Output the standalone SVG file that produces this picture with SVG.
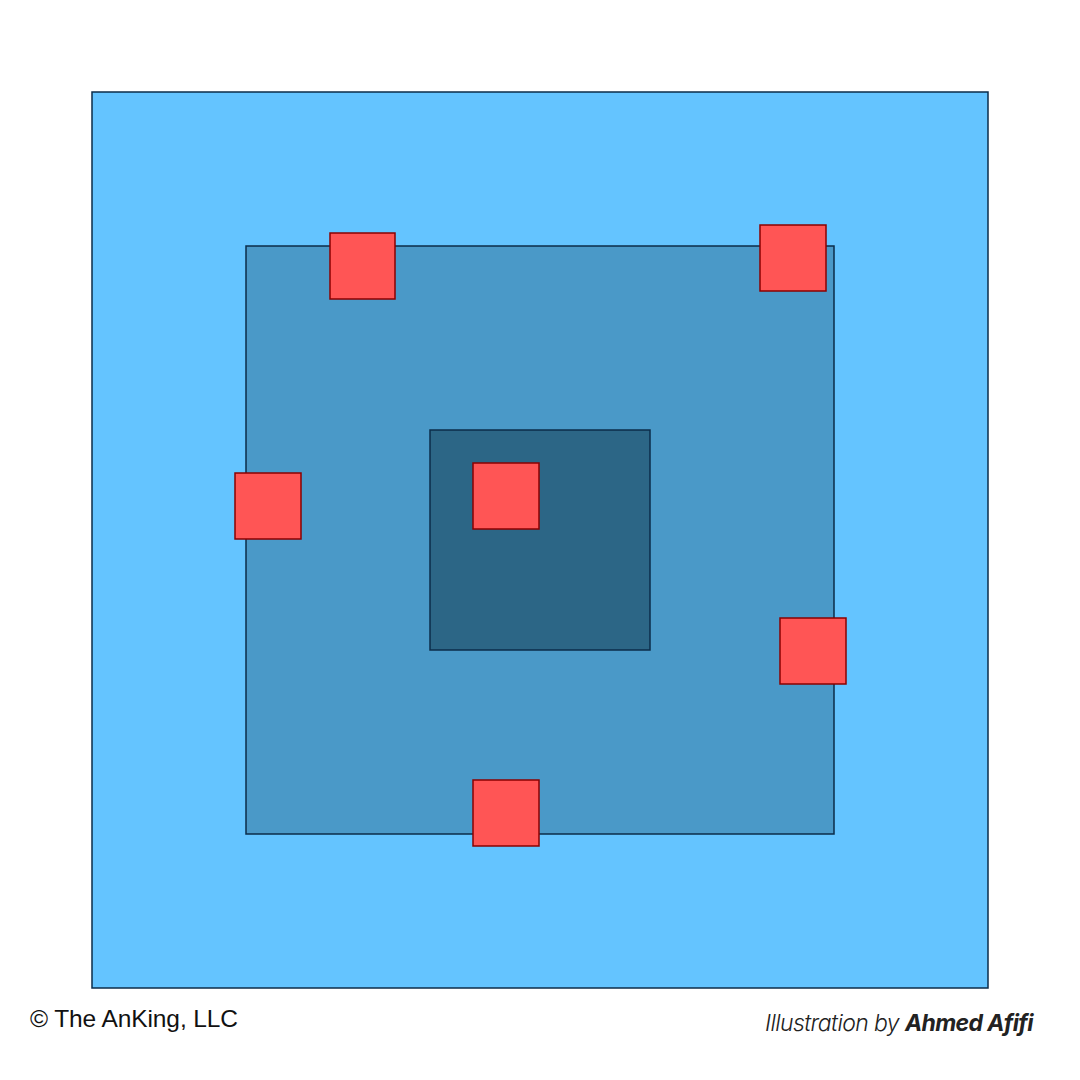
<svg xmlns="http://www.w3.org/2000/svg" width="1080" height="1080" viewBox="0 0 1080 1080">
<style>
.blue{stroke:#0B2D4A;stroke-width:1.5}
.red{fill:#FF5555;stroke:#8B0000;stroke-width:1.5}
.credit{font-family:"Liberation Sans",Arial,sans-serif;font-size:24.5px;fill:#111;letter-spacing:-0.1px}
.illus{font-family:Inter,"Noto Sans",sans-serif;font-size:23px;font-style:italic;fill:#222;letter-spacing:-0.6px}
</style>
<rect width="1080" height="1080" fill="#FFFFFF"/>
<g id="outer"><rect class="blue" x="92" y="92" width="896" height="896" fill="#64C4FF"/></g>
<g id="middle"><rect class="blue" x="246" y="246" width="588" height="588" fill="#4A99C8"/></g>
<g id="inner"><rect class="blue" x="430" y="430" width="220" height="220" fill="#2C6686"/></g>
<g id="sq1"><rect class="red" x="330" y="233" width="65" height="66"/></g>
<g id="sq2"><rect class="red" x="760" y="225" width="66" height="66"/></g>
<g id="sq3"><rect class="red" x="235" y="473" width="66" height="66"/></g>
<g id="sq4"><rect class="red" x="473" y="463" width="66" height="66"/></g>
<g id="sq5"><rect class="red" x="780" y="618" width="66" height="66"/></g>
<g id="sq6"><rect class="red" x="473" y="780" width="66" height="66"/></g>
<g id="connectors"></g>
<text class="credit" x="30" y="1027">© The AnKing, LLC</text>
<text class="illus" x="1033" y="1031" text-anchor="end"><tspan font-weight="300">Illustration by </tspan><tspan font-weight="700">Ahmed Afifi</tspan></text>
</svg>
